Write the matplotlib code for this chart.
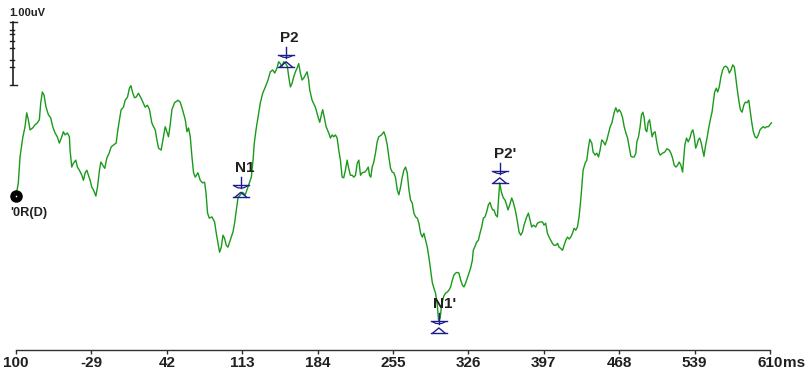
import matplotlib
matplotlib.use("Agg")
import matplotlib.pyplot as plt
import matplotlib.transforms as mtransforms

plt.rcParams["font.family"] = ["Liberation Sans", "DejaVu Sans"]

# Averaged evoked response, channel '0R(D)'
time_ms = [
    -100.0, -97.8, -96.2, -93.7, -91.5, -89.9, -88.4, -86.8, -84.3, -82.1,
    -79.9, -78.0, -76.7, -75.2, -73.6, -71.7, -69.5, -67.3, -65.4, -63.2,
    -61.1, -59.2, -56.9, -55.4, -53.8, -51.6, -49.7, -49.1, -47.5, -46.0,
    -43.7, -42.2, -40.3, -38.0, -36.5, -34.9, -33.3, -31.8, -30.2, -28.6,
    -27.1, -24.8, -23.3, -21.4, -20.1, -18.2, -16.4, -14.5, -12.3, -10.4,
    -8.2, -5.7, -4.5, -2.6, -1.0, 1.2, 2.8, 5.0, 6.8, 8.2,
    10.0, 11.6, 13.2, 15.3, 17.6, 19.5, 21.6, 23.8, 25.7, 27.9,
    29.5, 31.1, 32.7, 34.2, 36.7, 38.9, 40.5, 42.1, 43.6, 45.2,
    46.8, 49.3, 52.5, 54.6, 56.8, 59.4, 61.0, 62.5, 64.1, 65.7,
    67.2, 68.8, 71.3, 73.5, 75.7, 77.6, 78.9, 80.4, 82.0, 84.5,
    87.0, 88.6, 90.2, 91.7, 93.3, 94.9, 96.4, 98.0, 99.6, 101.1,
    102.7, 104.3, 105.8, 107.5, 109.1, 111.2, 113.4, 115.9, 117.5, 119.7,
    121.6, 123.2, 124.4, 126.0, 127.9, 130.1, 132.3, 134.8, 137.3, 139.5,
    141.7, 143.6, 145.8, 147.3, 148.9, 150.5, 152.0, 153.7, 155.6, 156.8,
    158.4, 160.0, 161.5, 163.1, 164.7, 166.2, 167.8, 169.4, 170.9, 172.5,
    174.1, 175.6, 176.6, 178.8, 181.9, 184.5, 186.0, 187.6, 188.8, 190.4,
    192.0, 194.5, 196.1, 197.7, 199.2, 200.8, 202.4, 203.9, 205.5, 207.1,
    208.6, 210.2, 211.8, 213.3, 214.9, 216.6, 218.1, 219.7, 221.3, 222.8,
    224.4, 226.0, 228.4, 230.0, 231.7, 232.9, 234.1, 235.4, 236.9, 238.5,
    240.1, 241.6, 244.2, 246.4, 248.0, 249.6, 251.1, 252.7, 254.3, 255.8,
    257.4, 259.0, 260.5, 262.1, 263.7, 265.2, 266.8, 268.4, 270.0, 271.5,
    273.1, 274.7, 276.3, 277.9, 279.4, 281.0, 282.6, 284.1, 285.7, 287.3,
    288.8, 290.4, 292.0, 293.5, 295.1, 296.7, 297.9, 299.3, 300.8, 302.7,
    304.5, 306.2, 307.7, 309.3, 310.9, 312.4, 314.0, 315.6, 317.1, 318.7,
    320.3, 321.8, 323.4, 325.0, 326.5, 328.1, 329.7, 330.6, 331.9, 333.8,
    335.4, 336.9, 338.5, 340.1, 341.6, 343.2, 344.8, 346.3, 347.6, 348.9,
    350.1, 351.7, 353.3, 354.5, 355.5, 357.1, 358.9, 360.4, 362.0, 363.3,
    364.9, 366.8, 368.3, 370.5, 372.2, 373.7, 375.3, 376.9, 378.4, 380.9,
    382.5, 384.0, 385.6, 387.2, 389.4, 391.0, 393.4, 395.7, 397.2, 398.8,
    400.4, 402.0, 403.6, 405.1, 406.6, 408.3, 409.9, 411.4, 413.0, 414.6,
    416.1, 417.7, 419.3, 420.8, 422.4, 424.0, 425.5, 427.1, 428.7, 430.2,
    431.8, 432.7, 434.0, 435.9, 437.5, 439.1, 440.3, 442.2, 443.4, 445.3,
    446.9, 448.5, 450.0, 451.6, 453.2, 454.7, 456.4, 458.0, 459.5, 461.1,
    463.2, 464.8, 466.4, 467.9, 469.5, 471.1, 472.7, 474.3, 475.9, 477.4,
    479.0, 480.6, 482.1, 483.7, 484.6, 486.2, 487.7, 489.0, 490.3, 491.5,
    492.8, 494.0, 495.3, 496.6, 497.8, 499.0, 500.3, 501.8, 503.5, 505.1,
    506.6, 508.8, 511.0, 512.9, 515.1, 516.7, 518.3, 519.8, 521.4, 523.0,
    524.5, 526.1, 527.7, 528.6, 529.8, 531.4, 533.0, 534.6, 536.2, 537.4,
    538.7, 540.0, 541.2, 542.5, 543.8, 545.0, 546.6, 547.8, 549.1, 550.7,
    552.3, 553.8, 555.4, 556.6, 557.9, 559.4, 560.7, 562.2, 563.8, 565.4,
    566.9, 568.5, 570.2, 571.7, 573.3, 574.9, 576.4, 577.7, 579.0, 580.6,
    582.1, 583.7, 585.3, 586.8, 588.4, 590.0, 591.5, 592.8, 594.3, 595.9,
    597.5, 599.0, 600.6, 602.2, 603.7, 605.3, 606.9, 608.5, 610.4, 611.3,
]

amp_uv = [
    0.00, 0.21, 0.62, 0.92, 1.10, 1.32, 1.21, 1.05, 1.08, 1.13,
    1.16, 1.21, 1.48, 1.65, 1.60, 1.41, 1.29, 1.24, 1.10, 1.00,
    0.94, 0.84, 0.94, 1.02, 0.97, 1.00, 0.94, 0.73, 0.46, 0.52,
    0.57, 0.46, 0.41, 0.33, 0.25, 0.37, 0.41, 0.33, 0.25, 0.14,
    0.10, 0.00, 0.14, 0.41, 0.54, 0.49, 0.44, 0.60, 0.68, 0.78,
    0.81, 0.84, 1.00, 1.21, 1.37, 1.41, 1.52, 1.57, 1.71, 1.75,
    1.63, 1.56, 1.57, 1.63, 1.56, 1.49, 1.41, 1.44, 1.37, 1.16,
    1.10, 1.05, 0.89, 0.76, 0.73, 0.94, 1.10, 1.02, 0.94, 1.13,
    1.37, 1.48, 1.52, 1.49, 1.37, 1.21, 1.02, 1.08, 0.94, 0.62,
    0.37, 0.30, 0.37, 0.25, 0.21, 0.22, 0.05, -0.27, -0.35, -0.33,
    -0.41, -0.59, -0.75, -0.89, -0.81, -0.62, -0.67, -0.78, -0.81, -0.73,
    -0.65, -0.57, -0.43, -0.22, -0.02, 0.02, 0.06, 0.02, 0.10, 0.21,
    0.30, 0.57, 0.84, 1.05, 1.25, 1.48, 1.63, 1.73, 1.84, 1.97,
    2.00, 1.95, 2.03, 2.13, 2.10, 2.05, 2.13, 2.11, 2.05, 1.89,
    1.73, 1.79, 1.89, 1.97, 2.03, 2.10, 1.95, 1.84, 1.87, 1.92,
    1.97, 1.84, 1.68, 1.52, 1.41, 1.25, 1.17, 1.29, 1.37, 1.24,
    1.10, 1.00, 0.92, 0.97, 0.94, 0.97, 0.92, 0.73, 0.57, 0.30,
    0.29, 0.41, 0.57, 0.44, 0.33, 0.33, 0.30, 0.33, 0.52, 0.57,
    0.33, 0.37, 0.38, 0.41, 0.46, 0.33, 0.30, 0.46, 0.54, 0.68,
    0.86, 0.94, 0.97, 1.02, 0.94, 0.81, 0.62, 0.44, 0.38, 0.37,
    0.29, 0.10, 0.02, 0.14, 0.30, 0.41, 0.46, 0.37, 0.10, -0.06,
    -0.11, -0.27, -0.33, -0.35, -0.43, -0.59, -0.65, -0.59, -0.70, -0.81,
    -0.97, -1.17, -1.37, -1.46, -1.54, -1.73, -1.97, -1.94, -1.73, -1.59,
    -1.54, -1.52, -1.49, -1.44, -1.33, -1.25, -1.22, -1.21, -1.22, -1.33,
    -1.41, -1.44, -1.38, -1.30, -1.22, -1.14, -1.02, -0.86, -0.81, -0.73,
    -0.70, -0.59, -0.49, -0.35, -0.33, -0.25, -0.14, -0.10, -0.17, -0.22,
    -0.22, -0.30, -0.33, -0.02, 0.21, 0.06, -0.03, -0.06, -0.14, -0.22,
    -0.14, -0.03, -0.10, -0.25, -0.41, -0.57, -0.62, -0.57, -0.46, -0.33,
    -0.27, -0.38, -0.49, -0.46, -0.49, -0.43, -0.41, -0.41, -0.46, -0.43,
    -0.59, -0.65, -0.70, -0.75, -0.78, -0.78, -0.75, -0.81, -0.83, -0.86,
    -0.78, -0.70, -0.65, -0.68, -0.65, -0.59, -0.51, -0.54, -0.49, -0.33,
    -0.06, 0.14, 0.41, 0.52, 0.57, 0.78, 0.90, 0.84, 0.70, 0.65,
    0.68, 0.62, 0.73, 0.89, 0.86, 0.81, 0.89, 1.00, 1.10, 1.16,
    1.32, 1.40, 1.33, 1.37, 1.33, 1.25, 1.10, 1.00, 0.92, 0.78,
    0.63, 0.62, 0.62, 0.68, 0.86, 0.94, 1.10, 1.29, 1.33, 1.24,
    1.05, 1.02, 1.17, 1.21, 1.08, 0.94, 1.00, 1.02, 0.84, 0.70,
    0.65, 0.68, 0.70, 0.75, 0.73, 0.68, 0.60, 0.49, 0.46, 0.49,
    0.54, 0.49, 0.38, 0.57, 0.81, 0.92, 0.86, 0.92, 1.02, 1.05,
    0.94, 0.76, 0.81, 0.89, 0.92, 0.86, 0.73, 0.63, 0.78, 0.92,
    1.08, 1.21, 1.33, 1.49, 1.65, 1.71, 1.65, 1.73, 1.89, 2.00,
    2.05, 2.06, 2.03, 1.95, 2.00, 2.08, 2.05, 1.89, 1.71, 1.52,
    1.37, 1.33, 1.44, 1.49, 1.48, 1.52, 1.33, 1.17, 1.02, 0.94,
    0.92, 0.97, 1.05, 1.08, 1.10, 1.08, 1.10, 1.10, 1.14, 1.16,
]

# Peak cursors: name, latency (ms), amplitude (uV)
peak_names = ["N1", "P2", "N1'", "P2'"]
peak_ms = [111.7, 154.3, 298.2, 355.5]
peak_uv = [-0.02, 2.05, -2.17, 0.21]

tick_ms = [-100, -29, 42, 113, 184, 255, 326, 397, 468, 539, 610]
tick_labels = ["100", "-29", "42", "113", "184", "255", "326", "397", "468", "539", "610"]

channel_label = "'0R(D)"
scale_label = "1.00uV"
scale_top_uv = 2.76
scale_len_uv = 1.0
scale_tick_frac = [0.12, 0.19, 0.30, 0.41, 0.61, 0.71]

TRACE = "#1a9a1a"
CURSOR = "#1c1c8c"
TEXT = "#202020"

W, H, DPI = 807, 379, 100
fig = plt.figure(figsize=(W / DPI, H / DPI), dpi=DPI)
ax = fig.add_axes([16 / W, 29 / H, 754 / W, 340 / H])
ax.set_xlim(-100, 610)
ax.set_ylim(-2.44, 2.95)

for side in ("top", "right", "left"):
    ax.spines[side].set_visible(False)
ax.spines["bottom"].set_color("#303030")
ax.spines["bottom"].set_linewidth(1.0)
ax.set_yticks([])
ax.set_xticks(tick_ms)
ax.set_xticklabels(tick_labels)
ax.tick_params(axis="x", direction="out", length=3.2, width=1.0, color="#303030",
               pad=1.0, labelsize=11, labelcolor=TEXT)
for lbl in ax.get_xticklabels():
    lbl.set_fontweight("bold")

ax.annotate("ms", xy=(610, 0), xycoords=("data", "axes fraction"),
            xytext=(9.5, -4.2), textcoords="offset points",
            ha="left", va="top", fontsize=11, fontweight="bold", color=TEXT)

# waveform
ax.plot(time_ms, amp_uv, color=TRACE, lw=1.0, clip_on=False, zorder=3)


def at(x, y):
    """Transform whose units are pixels, anchored at a data point."""
    return (mtransforms.Affine2D().scale(1.0 / DPI) + fig.dpi_scale_trans
            + mtransforms.ScaledTranslation(x, y, ax.transData))


# channel origin dot and label
ax.plot([time_ms[0]], [amp_uv[0]], "o", color="black", ms=8, clip_on=False, zorder=5)
ax.plot([time_ms[0]], [amp_uv[0]], "o", color="white", ms=1.2, mew=0,
        clip_on=False, zorder=6)
ax.text(-6, -20, channel_label, transform=at(time_ms[0], amp_uv[0]),
        ha="left", va="baseline", fontsize=9.2, fontweight="bold", color=TEXT)

# amplitude scale bar
scale_x = -102.8
ax.plot([scale_x, scale_x], [scale_top_uv, scale_top_uv - scale_len_uv],
        color="#202020", lw=1.2, clip_on=False)
for yv in (scale_top_uv, scale_top_uv - scale_len_uv):
    ax.plot([-3, 4], [0, 0], color="#202020", lw=1.0, clip_on=False,
            transform=at(scale_x, yv))
for f in scale_tick_frac:
    ax.plot([-3, 1], [0, 0], color="#202020", lw=1.0, clip_on=False,
            transform=at(scale_x, scale_top_uv - f * scale_len_uv))
ax.text(-4, 6, scale_label, transform=at(scale_x, scale_top_uv),
        ha="left", va="baseline", fontsize=8, fontweight="bold", color=TEXT)

# peak cursors
for name, xm, yv in zip(peak_names, peak_ms, peak_uv):
    t = at(xm, yv)
    # triangle marker on the peak
    ax.plot([-8, 8], [0, 0], color=CURSOR, lw=1.0, transform=t, clip_on=False, zorder=4)
    ax.plot([-6, 0, 6], [0, 5, 0], color=CURSOR, lw=1.0, transform=t, clip_on=False, zorder=4)
    # cross cursor above it
    ax.plot([-8, 8], [12, 12], color=CURSOR, lw=1.0, transform=t, clip_on=False, zorder=4)
    ax.plot([0, 0], [9, 20], color=CURSOR, lw=1.0, transform=t, clip_on=False, zorder=4)
    ax.plot([-6, -3, 0, 3, 6], [11, 9.6, 9.2, 9.6, 11], color=CURSOR, lw=0.9,
            transform=t, clip_on=False, zorder=4)
    ax.text(-6, 25, name, transform=t, ha="left", va="baseline",
            fontsize=11, fontweight="bold", color=TEXT, zorder=6)

fig.savefig("out.png", dpi=DPI, facecolor="white")
